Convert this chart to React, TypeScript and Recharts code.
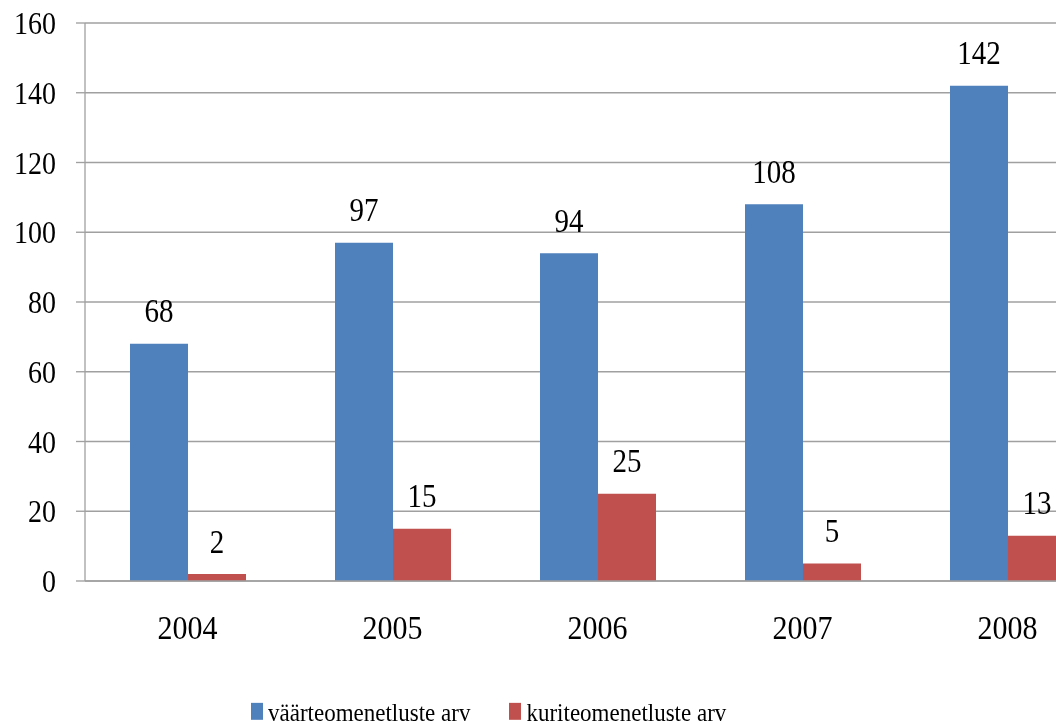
import { BarChart, Bar, XAxis, YAxis, CartesianGrid, LabelList } from "recharts";

const years = ["2004", "2005", "2006", "2007", "2008"];
const vaarteo = [68, 97, 94, 108, 142];
const kuriteo = [2, 15, 25, 5, 13];
const seriesNames = ["väärteomenetluste arv", "kuriteomenetluste arv"];
const seriesColors = ["#4f81bd", "#c0504d"];
const yTicks = [0, 20, 40, 60, 80, 100, 120, 140, 160];

const data = years.map((y, i) => ({ year: y, v: vaarteo[i], k: kuriteo[i] }));
// category boundaries for the tick marks between groups
const bounds = Array.from({ length: years.length + 1 }, (_, i) => i);

const FONT = "Times New Roman";
const GRID = "#a0a0a0";
// the original picture is stretched vertically, so draw short and scale up
const S = 1.13;
const H = 724 / S;
const PLOT_TOP = 23 / S;
const PLOT_BOTTOM = 581 / S;

export default function App() {
  return (
    <div style={{ position: "fixed", left: 0, top: 0, width: 1056, height: 724, overflow: "hidden", fontFamily: FONT }}>
      <div style={{ position: "relative", width: 1120, height: H, transform: `scaleY(${S})`, transformOrigin: "0 0" }}>
        <BarChart
          width={1120}
          height={H}
          data={data}
          margin={{ top: PLOT_TOP, right: 10, bottom: 0, left: 0 }}
          barCategoryGap={45}
          barGap={0}
        >
          <CartesianGrid xAxisId="c" vertical={false} stroke={GRID} strokeWidth={1.2} />
          <XAxis
            xAxisId="b"
            type="number"
            domain={[0, years.length]}
            ticks={bounds}
            tick={false}
            tickSize={10 / S}
            axisLine={false}
            tickLine={{ stroke: GRID, strokeWidth: 1.3 }}
            height={0}
          />
          <XAxis
            xAxisId="c"
            dataKey="year"
            height={H - PLOT_BOTTOM}
            tickLine={false}
            tickSize={10 / S}
            tickMargin={21}
            axisLine={{ stroke: GRID, strokeWidth: 1.2 }}
            tick={{ fill: "#000", fontSize: 30, fontFamily: FONT }}
          />
          <YAxis
            width={85}
            domain={[0, 160]}
            ticks={yTicks}
            tickSize={9}
            tickMargin={20}
            axisLine={{ stroke: GRID, strokeWidth: 1.3 }}
            tickLine={{ stroke: GRID, strokeWidth: 1.2 }}
            tick={{ fill: "#000", fontSize: 28, fontFamily: FONT }}
          />
          <Bar xAxisId="c" dataKey="v" name={seriesNames[0]} fill={seriesColors[0]} isAnimationActive={false}>
            <LabelList dataKey="v" position="top" offset={19} fill="#000" fontSize={29} fontFamily={FONT} />
          </Bar>
          <Bar xAxisId="c" dataKey="k" name={seriesNames[1]} fill={seriesColors[1]} isAnimationActive={false}>
            <LabelList dataKey="k" position="top" offset={19} fill="#000" fontSize={29} fontFamily={FONT} />
          </Bar>
        </BarChart>
        <div
          style={{
            position: "absolute", left: 251, top: 619, display: "flex", alignItems: "flex-start",
            fontFamily: FONT, fontSize: 23, lineHeight: "24px", color: "#000", whiteSpace: "nowrap",
          }}
        >
          {seriesNames.map((n, i) => (
            <div key={n} style={{ display: "flex", alignItems: "flex-start", marginRight: 39 }}>
              <span style={{ width: 12, height: 15, marginTop: 3, marginRight: 5, background: seriesColors[i], display: "inline-block" }} />
              <span>{n}</span>
            </div>
          ))}
        </div>
      </div>
    </div>
  );
}
